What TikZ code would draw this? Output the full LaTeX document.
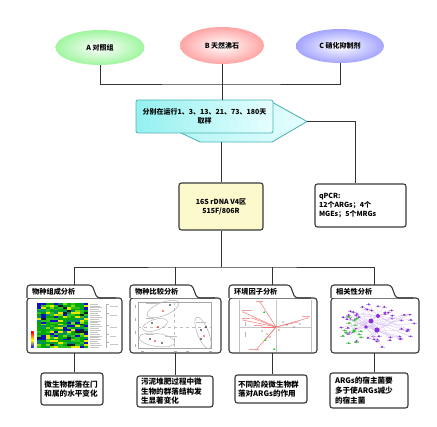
\documentclass[tikz,border=0pt]{standalone}
\usepackage{fontspec}
\setmainfont{Noto Sans CJK SC}
\usetikzlibrary{shapes.geometric,calc}
\definecolor{linec}{HTML}{333333}
\definecolor{boxc}{HTML}{3A3A3A}
\definecolor{elA}{HTML}{A0F5A0}
\definecolor{elB}{HTML}{FFA4A4}
\definecolor{elC}{HTML}{A4A4FF}
\definecolor{cyanL}{HTML}{94F0F0}
\definecolor{cyanR}{HTML}{E6FEFE}
\definecolor{tealb}{HTML}{4BB5B5}
\definecolor{yel}{HTML}{FCF9CC}
\definecolor{pur}{HTML}{8A2BE2}
\definecolor{purl}{HTML}{D9C2F2}
\definecolor{grn}{HTML}{22CC22}
\definecolor{grnl}{HTML}{C8EEC8}
\definecolor{hmA}{HTML}{00A800}
\definecolor{hmB}{HTML}{7FE000}
\definecolor{hmC}{HTML}{E8E800}
\definecolor{hmD}{HTML}{1010C0}
\definecolor{hmE}{HTML}{102020}
\definecolor{hmF}{HTML}{008F60}
\definecolor{hmG}{HTML}{30C020}
\definecolor{rdaR}{HTML}{F07878}
\tikzset{
  conn/.style={draw=linec, line width=0.9pt},
  ell/.style={ellipse, shading=radial, inner color=white, font=\bfseries\fontsize{7}{8}\selectfont, inner sep=0pt},
  whitebox/.style={draw=boxc, line width=1.1pt, rounded corners=2.5pt, fill=white, font=\bfseries\fontsize{7}{8.6}\selectfont, inner sep=0pt},
  resbox/.style={draw=boxc, line width=1.1pt, rounded corners=2.5pt, fill=white, font=\bfseries\fontsize{7.6}{9.6}\selectfont, inner sep=0pt, align=left},
  folder/.style={draw=boxc, line width=1.1pt, fill=white, rounded corners=3pt},
  tabtxt/.style={font=\bfseries\fontsize{7.2}{8}\selectfont, anchor=west, inner sep=0pt},
  gmark/.style={draw=gray!60, line width=0.35pt},
}
\begin{document}
\begin{tikzpicture}[x=1pt,y=-1pt]
\useasboundingbox (0,0) rectangle (437,427);
\fill[white] (0,0) rectangle (437,427);

% top ellipses
\node[ell, outer color=elA, minimum width=89pt, minimum height=35pt] (A) at (100,47.5) {A 对照组};
\node[ell, outer color=elB, minimum width=84pt, minimum height=37pt] (B) at (222,45.5) {B 天然沸石};
\node[ell, outer color=elC, minimum width=88pt, minimum height=34pt] (C) at (340,46) {C 硝化抑制剂};

% banner
\fill[left color=cyanL!70!white, right color=cyanR, draw=tealb, line width=0.8pt]
  (175,130) -- (200,142) -- (272,142) -- (307,121.5) -- (270,101) -- cycle;
\coordinate (tip) at (307,121.5);
\coordinate (bb) at (222,142);
\node[draw=tealb, line width=0.8pt, rounded corners=2pt, left color=cyanL, right color=cyanR,
  minimum width=137pt, minimum height=33pt, align=center, inner sep=0pt,
  font=\bfseries\fontsize{7}{9}\selectfont] (ban) at (204.5,116.5)
  {分别在运行1、3、13、21、73、180天\\取样};

% middle boxes
\node[whitebox, fill=yel, minimum width=84pt, minimum height=47pt, align=center] (s16) at (221,206.5)
  {16S rDNA V4区\\515F/806R};
\node[whitebox, minimum width=91pt, minimum height=43pt, align=left, text width=83pt] (q) at (360.5,205.5)
  {qPCR:\\12个ARGs；4个\\MGEs；5个MRGs};

% connectors top
\coordinate (j1) at (222,84);
\draw[conn] (A.south) |- (j1) -| (C.south);
\draw[conn] (B.south) -- (B.south |- ban.north);
\draw[conn] (tip) -| ([xshift=-5.5pt]q.north);
\draw[conn] (s16.north |- bb) -- (s16.north);

% folders
\newcommand\myfolder[3]{% L, T, R
  \draw[folder] (#1,298) rectangle (#3,353);
  \draw[folder] (#1,298) -- (#1,285) -- (#2-5,285) -- (#2,298) -- (#3-6,298);
}
\myfolder{27}{97}{122}
\myfolder{130}{197}{221}
\myfolder{229}{295}{317}
\myfolder{331}{396}{419}
\node[tabtxt] (ta) at (32,291.5) {物种组成分析};
\node[tabtxt] (tb) at (135,291.5) {物种比较分析};
\node[tabtxt] (tc) at (234,291.5) {环境因子分析};
\node[tabtxt] (td) at (336,291.5) {相关性分析};

% bus 2
\coordinate (j2) at (221,267);
\coordinate (ca) at (74,285);
\coordinate (cb) at (175,285);
\coordinate (cc) at (272.5,285);
\coordinate (cd) at (374.5,285);
\draw[conn] (s16.south) -- (j2);
\draw[conn] (ca) |- (j2) -| (cd);
\draw[conn] (cb) -- (cb |- j2);
\draw[conn] (cc) -- (cc |- j2);

% panel 1: heatmap
\pgfmathsetseed{11}
\pgfmathdeclarerandomlist{hm}{{hmA}{hmB}{hmC}{hmD}{hmE}{hmF}{hmG}{hmA}{hmG}{hmA}{hmF}{hmD}}
\foreach \i in {0,...,11}{
  \foreach \j in {0,...,23}{
    \pgfmathrandomitem{\hc}{hm}
    \fill[\hc] (37+\i*4.25,303+\j*1.875) rectangle ++(4.25,1.875);
  }
}
\foreach \j in {0,...,23}{
  \pgfmathsetmacro\lw{8+mod(\j*7,5)}
  \draw[gmark, line width=0.5pt, draw=gray!45] (89.5,303.9+\j*1.875) -- ++(\lw,0);
}
\draw[gmark] (106,304) -- (106,348);
\foreach \y/\w in {304/8,313/7,325/7,334/6,342/8}{
  \draw[gmark] (106,\y) -- ++(3,0);
  \draw[gmark, draw=gray!45, line width=0.5pt] (110,\y+2) -- ++(\w,0);
}
\shade[top color=red, bottom color=blue, middle color=yellow] (31,332) rectangle (33.5,348);

% panel 2: PCA
\draw[gmark, draw=gray!70] (138,302) rectangle (211,348);
\draw[gmark, draw=gray!50, dashed] (174,302) -- (174,348);
\draw[gmark, draw=gray!50, dashed] (138,327) -- (211,327);
\draw[gray!70, line width=0.4pt] (163,309) ellipse [x radius=17, y radius=6.5, rotate=22];
\draw[gray!70, line width=0.4pt] (155,325) ellipse [x radius=13, y radius=5.5, rotate=18];
\draw[gray!70, line width=0.4pt] (157,340) ellipse [x radius=18, y radius=6.5, rotate=-8];
\draw[gray!70, line width=0.4pt] (203,333) ellipse [x radius=5.5, y radius=17, rotate=22];
\foreach \p/\pc in {{170,305}/black,{163,311}/red,{152,323}/black,{158,327}/red,{150,339}/black,{155,341}/red,{162,343}/black,{201,330}/black,{204,336}/red,{206,327}/black,{201,339}/black}{
  \fill[\pc] (\p) circle (0.8);
}
\foreach \p/\w in {{146,303}/12,{146,318}/8,{146,334}/8,{165,336}/12,{196,322}/10}{
  \draw[gmark, draw=gray!50, line width=0.5pt] (\p) -- ++(\w,0);
}
\foreach \x in {141,174,186,209}{\draw[gmark, draw=gray!60, line width=0.5pt] (\x,351) -- ++(3,0);}
\foreach \y in {305,318,331,344}{\draw[gmark, draw=gray!60, line width=0.5pt] (135,\y) -- ++(0,3);}

% panel 3: RDA
\draw[gmark, draw=gray!50] (239,300) -- (239,352);
\draw[gmark, draw=gray!50] (311,300) -- (311,352);
\draw[gmark, draw=gray!45] (276,300) -- (276,352);
\draw[gmark, draw=gray!45] (239,327) -- (311,327);
\foreach \p in {{260,302},{243,312},{243,320},{252,318},{308,318},{256,350},{262,327},{298,322},{266,339}}{
  \draw[rdaR, line width=0.5pt] (276,327) -- (\p);
  \fill[rdaR] (\p) circle (0.6);
}
\foreach \p/\w in {{256,301}/7,{242,310}/10,{242,318}/8,{302,316}/8,{249,349}/10,{254,325}/8}{
  \draw[rdaR!70, line width=0.6pt] (\p) -- ++(\w,0);
}
\foreach \p in {{287,325},{283,322},{294,327},{262,331},{267,334},{279,330},{300,324},{270,337}}{
  \fill[black!80] (\p) circle (0.55);
}
\fill[grn] (263,313) -- ++(1.2,-2) -- ++(1.2,2) -- cycle;
\fill[grn] (273,350) -- ++(1.2,-2) -- ++(1.2,2) -- cycle;
\fill[grn] (264,341) -- ++(1.2,-2) -- ++(1.2,2) -- cycle;
\draw[gmark, draw=gray!60, line width=0.5pt] (245,322) -- ++(0,4);
\draw[gmark, draw=gray!60, line width=0.5pt] (245,332) -- ++(0,5);

% panel 4: network
\pgfmathsetseed{5}
\coordinate (h1) at (371,321);
\coordinate (h2) at (378,316);
\coordinate (h3) at (377,330);
\coordinate (h4) at (366,327);
\coordinate (g1) at (354,331);
\foreach \k in {1,...,55}{
  \pgfmathsetmacro\ang{360*rnd}
  \pgfmathsetmacro\rr{0.35+0.65*sqrt(rnd)}
  \pgfmathsetmacro\px{378+38*\rr*cos(\ang)}
  \pgfmathsetmacro\py{325+22*\rr*sin(\ang)}
  \pgfmathtruncatemacro\hub{1+int(3.99*rnd)}
  \draw[purl, line width=0.3pt] (\px,\py) -- (h\hub);
  \draw[purl!80!gray, line width=0.5pt] (\px-2.5,\py) -- (\px+2.5,\py);
  \fill[pur] (\px,\py) circle (1.1);
}
\foreach \k in {1,...,14}{
  \pgfmathsetmacro\ang{360*rnd}
  \pgfmathsetmacro\rr{0.3+0.7*sqrt(rnd)}
  \pgfmathsetmacro\px{352+11*\rr*cos(\ang)}
  \pgfmathsetmacro\py{331+17*\rr*sin(\ang)}
  \draw[grnl, line width=0.3pt] (\px,\py) -- (g1);
  \draw[grnl!60!gray, line width=0.5pt] (\px-2.5,\py) -- (\px+2.5,\py);
  \fill[grn] (\px,\py) circle (1.1);
}
\fill[pur] (h1) circle (2.4);
\fill[pur] (h2) circle (2);
\fill[pur] (h3) circle (2.6);
\fill[pur] (h4) circle (1.8);
\fill[grn] (g1) circle (1.8);

% result boxes
\node[resbox, minimum width=62pt, minimum height=32pt, text width=55pt] (ra) at (72,389)
  {微生物群落在门\\和属的水平变化};
\node[resbox, minimum width=76pt, minimum height=31pt, text width=68pt] (rb) at (175,391.5)
  {污泥堆肥过程中微\\生物的群落结构发\\生显著变化};
\node[resbox, minimum width=72pt, minimum height=28pt, text width=66pt] (rc) at (271,389)
  {不同阶段微生物群\\落对ARGs的作用};
\node[resbox, minimum width=78pt, minimum height=35pt, text width=68pt] (rd) at (369,390.5)
  {ARGs的宿主菌要\\多于使ARGs减少\\的宿主菌};

\coordinate (ea) at (74,353);
\coordinate (eb) at (175,353);
\coordinate (ec) at (272.5,353);
\coordinate (ed) at (374.5,353);
\draw[conn] (ea) -- (ea |- ra.north);
\draw[conn] (eb) -- (eb |- rb.north);
\draw[conn] (ec) -- (ec |- rc.north);
\draw[conn] (ed) -- (ed |- rd.north);
\end{tikzpicture}
\end{document}
